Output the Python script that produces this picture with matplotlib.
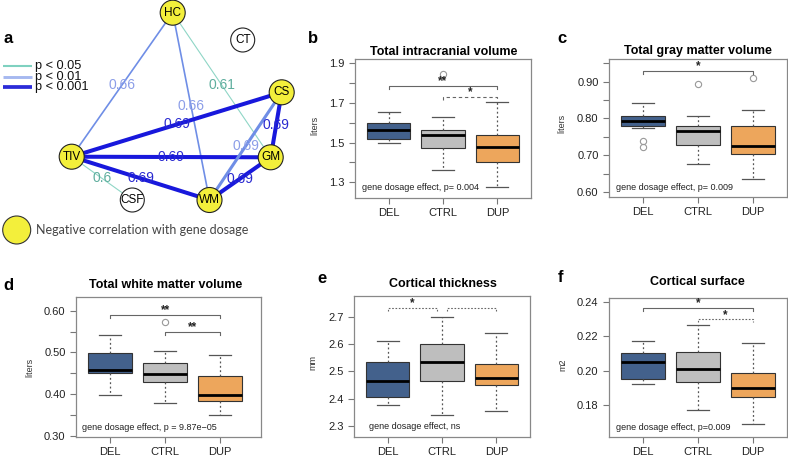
import matplotlib
matplotlib.use("Agg")
import matplotlib.pyplot as plt
from matplotlib.patches import Circle

plt.rcParams['font.family'] = ['Liberation Sans', 'DejaVu Sans']

W, H = 788, 457

# ---- panel a: correlation network ----
node_names = ["HC", "CT", "CS", "GM", "WM", "TIV", "CSF"]
node_negative = ["HC", "CS", "GM", "WM", "TIV"]   # yellow nodes
edges = [("HC", "TIV"), ("HC", "WM"), ("HC", "GM"), ("TIV", "CS"), ("TIV", "GM"),
         ("TIV", "WM"), ("TIV", "CSF"), ("CS", "GM"), ("CS", "WM"), ("GM", "WM")]
edge_r = [0.66, 0.66, 0.61, 0.69, 0.69, 0.69, 0.6, 0.69, 0.69, 0.69]
edge_p = [0.01, 0.01, 0.05, 0.001, 0.001, 0.001, 0.05, 0.001, 0.01, 0.001]
p_levels = [0.05, 0.01, 0.001]

# ---- panels b-f: box statistics (whisker low, q1, median, q3, whisker high) ----
groups = ["DEL", "CTRL", "DUP"]

icv_stats = [[1.497, 1.518, 1.562, 1.599, 1.656],
             [1.362, 1.475, 1.539, 1.566, 1.628],
             [1.278, 1.404, 1.476, 1.537, 1.703]]
icv_fliers = [[], [1.846], []]

gm_stats = [[0.773, 0.780, 0.794, 0.806, 0.843],
            [0.677, 0.728, 0.765, 0.780, 0.808],
            [0.634, 0.702, 0.725, 0.779, 0.823]]
gm_fliers = [[0.739, 0.721], [0.895], [0.909]]

wm_stats = [[0.397, 0.450, 0.458, 0.498, 0.543],
            [0.378, 0.430, 0.448, 0.475, 0.504],
            [0.349, 0.384, 0.398, 0.444, 0.494]]
wm_fliers = [[], [0.572], []]

ct_stats = [[2.378, 2.405, 2.466, 2.534, 2.612],
            [2.341, 2.466, 2.535, 2.602, 2.700],
            [2.356, 2.449, 2.476, 2.527, 2.639]]
ct_fliers = [[], [], []]

cs_stats = [[0.1926, 0.1955, 0.2052, 0.2102, 0.2172],
            [0.1773, 0.1936, 0.2009, 0.2110, 0.2265],
            [0.1694, 0.1848, 0.1903, 0.1990, 0.2162]]
cs_fliers = [[], [], []]

icv_ticks = [1.3, 1.4, 1.5, 1.6, 1.7, 1.8, 1.9]
icv_ticklabels = ["1.3", "", "1.5", "", "1.7", "", "1.9"]
gm_ticks = [0.60, 0.65, 0.70, 0.75, 0.80, 0.85, 0.90, 0.95]
gm_ticklabels = ["0.60", "", "0.70", "", "0.80", "", "0.90", ""]
wm_ticks = [0.30, 0.35, 0.40, 0.45, 0.50, 0.55, 0.60]
wm_ticklabels = ["0.30", "", "0.40", "", "0.50", "", "0.60"]
ct_ticks = [2.3, 2.4, 2.5, 2.6, 2.7]
ct_ticklabels = ["2.3", "2.4", "2.5", "2.6", "2.7"]
cs_ticks = [0.18, 0.20, 0.22, 0.24]
cs_ticklabels = ["0.18", "0.20", "0.22", "0.24"]

# significance brackets: (from group, to group, height, line style, stars)
icv_sig = [(1, 3, 1.787, "solid", "**"), (2, 3, 1.729, "dashed", "*")]
gm_sig = [(1, 3, 0.929, "solid", "*")]
wm_sig = [(1, 3, 0.590, "solid", "**"), (2, 3, 0.550, "solid", "**")]
ct_sig = [(1, 1.9, 2.732, "dotted", "*"), (2.1, 3, 2.732, "dotted", "")]
cs_sig = [(1, 3, 0.2367, "solid", "*"), (2, 3, 0.2299, "dotted", "*")]

# ---- styles ----
yellow = "#f3ef3b"
box_colors = ["#43618c", "#bebebe", "#eda65c"]
p_line = {0.05: "#8fd6c6", 0.01: "#6f8ee6", 0.001: "#1818dc"}
p_text = {0.05: "#5fae9e", 0.01: "#8c9ee8", 0.001: "#2a2ad0"}
p_legend = {0.05: "#7fd1c0", 0.01: "#a6b8f0", 0.001: "#2b2bd8"}
dash = {"solid": "-", "dashed": (0, (3, 2.5)), "dotted": (0, (1.5, 1.5))}

fig = plt.figure(figsize=(W / 100, H / 100), dpi=100)


def px_axes(left, top, right, bottom):
    return fig.add_axes([left / W, 1 - bottom / H, (right - left) / W, (bottom - top) / H])


def px_text(x, y, s, **kw):
    fig.text(x / W, 1 - y / H, s, **kw)


# layout of network nodes (pixel space)
node_pos = {"HC": (172.7, 12.7), "CT": (242.7, 40), "CS": (281.7, 92.3), "GM": (270.7, 157.3),
            "WM": (209.5, 200), "TIV": (71.7, 156.7), "CSF": (132.3, 200)}

ax_a = px_axes(0, 0, 300, 250)
ax_a.set_xlim(0, 300)
ax_a.set_ylim(250, 0)
ax_a.axis("off")

for (n1, n2), r, p in zip(edges, edge_r, edge_p):
    x1, y1 = node_pos[n1]
    x2, y2 = node_pos[n2]
    if r >= 0.69:
        lw = 2.9 if p == 0.001 else 2.2
    elif r >= 0.65:
        lw = 1.2
    else:
        lw = 0.8
    ax_a.plot([x1, x2], [y1, y2], color=p_line[p], lw=lw, zorder=1, solid_capstyle="butt")
    ax_a.text((x1 + x2) / 2, (y1 + y2) / 2, f"{r:g}", color=p_text[p], fontsize=10,
              ha="center", va="center", zorder=3, clip_on=False)

for name in node_names:
    x, y = node_pos[name]
    fc = yellow if name in node_negative else "white"
    rad = 12.5 if name in node_negative else 12
    ax_a.add_patch(Circle((x, y), rad, fc=fc, ec="#222222", lw=0.8, zorder=2, clip_on=False))
    ax_a.text(x, y, name, fontsize=8.5, ha="center", va="center", zorder=4)

for i, p in enumerate(p_levels):
    yy = 66 + i * 10.7
    ax_a.plot([3, 32], [yy, yy], color=p_legend[p], lw=1.5 + i * 0.6, solid_capstyle="butt")
    ax_a.text(35, yy, f"p < {p:g}", fontsize=9.2, ha="left", va="center", color="#111111")

ax_a.add_patch(Circle((16.7, 230), 14, fc=yellow, ec="#333333", lw=0.8, clip_on=False))
ax_a.text(36, 230, "Negative correlation with gene dosage", fontsize=9, family="Lato",
          ha="left", va="center", color="#444444")

# ---- box plot panels ----
panels = [
    dict(box=(355, 59, 531, 197.5), ylim=(1.223, 1.922), stats=icv_stats, fliers=icv_fliers,
         ticks=icv_ticks, ticklabels=icv_ticklabels, sig=icv_sig, xlim=(0.38, 3.62),
         title="Total intracranial volume", title_xy=(444, 55), ylabel="liters", ylabel_xy=(315, 125),
         note="gene dosage effect, p= 0.004", note_x=0.04, letter="b", letter_xy=(308, 43)),
    dict(box=(609, 59, 787, 197), ylim=(0.586, 0.962), stats=gm_stats, fliers=gm_fliers,
         ticks=gm_ticks, ticklabels=gm_ticklabels, sig=gm_sig, xlim=(0.38, 3.62),
         title="Total gray matter volume", title_xy=(698, 54), ylabel="liters", ylabel_xy=(562, 123),
         note="gene dosage effect, p= 0.009", note_x=0.04, letter="c", letter_xy=(557, 43)),
    dict(box=(76, 297, 261, 437), ylim=(0.297, 0.633), stats=wm_stats, fliers=wm_fliers,
         ticks=wm_ticks, ticklabels=wm_ticklabels, sig=wm_sig, xlim=(0.38, 3.74),
         title="Total white matter volume", title_xy=(166, 288), ylabel="liters", ylabel_xy=(30, 367),
         note="gene dosage effect, p = 9.87e\u221205", note_x=0.033, letter="d", letter_xy=(3, 290)),
    dict(box=(354, 296, 530, 436.5), ylim=(2.262, 2.776), stats=ct_stats, fliers=ct_fliers,
         ticks=ct_ticks, ticklabels=ct_ticklabels, sig=ct_sig, xlim=(0.38, 3.62),
         title="Cortical thickness", title_xy=(443, 287), ylabel="mm", ylabel_xy=(313, 363),
         note="gene dosage effect, ns", note_x=0.085, letter="e", letter_xy=(317, 283)),
    dict(box=(609, 298, 787, 437), ylim=(0.1616, 0.2423), stats=cs_stats, fliers=cs_fliers,
         ticks=cs_ticks, ticklabels=cs_ticklabels, sig=cs_sig, xlim=(0.38, 3.62),
         title="Cortical surface", title_xy=(697, 285), ylabel="m2", ylabel_xy=(563, 365),
         note="gene dosage effect, p=0.009", note_x=0.04, letter="f", letter_xy=(558, 282)),
]

for pn in panels:
    ax = px_axes(*pn["box"])
    bstats = [dict(whislo=s[0], q1=s[1], med=s[2], q3=s[3], whishi=s[4], fliers=f)
              for s, f in zip(pn["stats"], pn["fliers"])]
    bp = ax.bxp(bstats, positions=[1, 2, 3], widths=0.8, capwidths=0.4, patch_artist=True,
                boxprops=dict(edgecolor="#333333", linewidth=0.8),
                medianprops=dict(color="black", linewidth=2.0, solid_capstyle="butt"),
                whiskerprops=dict(color="#555555", linewidth=0.9, linestyle=(0, (1.5, 2))),
                capprops=dict(color="#555555", linewidth=0.9),
                flierprops=dict(marker="o", markerfacecolor="none", markeredgecolor="#999999",
                                markersize=4.5, markeredgewidth=0.8))
    for patch, c in zip(bp["boxes"], box_colors):
        patch.set_facecolor(c)

    ax.set_xlim(*pn["xlim"])
    ax.set_ylim(*pn["ylim"])
    ax.set_xticks([1, 2, 3])
    ax.set_xticklabels(groups, fontsize=8)
    ax.set_yticks(pn["ticks"])
    ax.set_yticklabels(pn["ticklabels"], fontsize=8)
    ax.tick_params(length=4.5, width=0.8, color="#777777", pad=3, labelcolor="#222222")
    for sp in ax.spines.values():
        sp.set_color("#888888")
        sp.set_linewidth(0.9)

    yr = pn["ylim"][1] - pn["ylim"][0]
    leg = 0.022 * yr
    for x1, x2, y, ls, stars in pn["sig"]:
        ax.plot([x1, x1, x2, x2], [y - leg, y, y, y - leg], color="#666666", lw=0.8, ls=dash[ls])
        if stars:
            ax.text((x1 + x2) / 2, y + 0.012 * yr, stars, ha="center", va="baseline",
                    fontsize=8.5, fontweight="bold", color="#222222")

    ax.text(pn["note_x"], 0.07, pn["note"], transform=ax.transAxes, fontsize=6.5,
            ha="left", va="center", color="#222222")

    px_text(pn["title_xy"][0], pn["title_xy"][1], pn["title"], fontsize=9, fontweight="bold",
            ha="center", va="baseline")
    px_text(pn["ylabel_xy"][0], pn["ylabel_xy"][1], pn["ylabel"], fontsize=6.5, rotation=90,
            ha="center", va="center", color="#333333")
    px_text(pn["letter_xy"][0], pn["letter_xy"][1], pn["letter"], fontsize=12, fontweight="bold",
            ha="left", va="baseline")

px_text(3, 43, "a", fontsize=12, fontweight="bold", ha="left", va="baseline")

fig.savefig("out.png", dpi=100)
